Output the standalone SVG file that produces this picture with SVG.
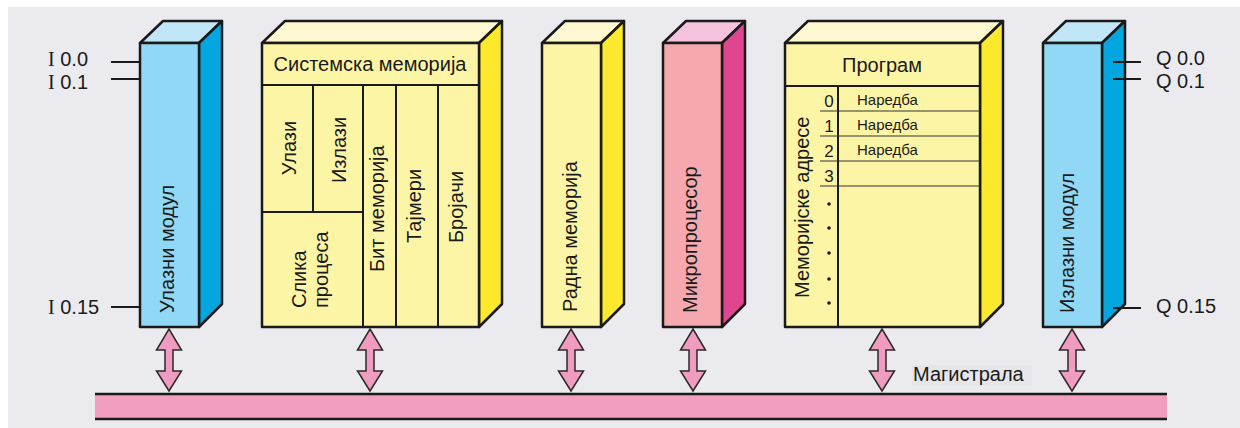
<svg xmlns="http://www.w3.org/2000/svg" width="1240" height="428" viewBox="0 0 1240 428">
  <defs>
    <style>
      .edge { stroke: #1a1a1a; stroke-width: 2.5; stroke-linejoin: round; }
      .thin { stroke: #1a1a1a; stroke-width: 2; fill: none; }
      .row { stroke: #333; stroke-width: 1.2; fill: none; }
      .blue-front { fill: #90D8F5; }
      .blue-side { fill: #03A6DE; }
      .blue-top { fill: #C0E6F7; }
      .yel-front { fill: #FDF5A6; }
      .yel-side { fill: #FCE82C; }
      .yel-top { fill: #FEF9D0; }
      .pink-front { fill: #F5A9AE; }
      .pink-side { fill: #E0468F; }
      .pink-top { fill: #F6C2DE; }
      .lbl { font-family: "Liberation Sans", Arial, sans-serif; fill: #1a1a1a; }
      .big { font-size: 20px; }
      .mid { font-size: 17px; }
      .small { font-size: 15px; }
      .arrow { fill: #F09CC0; stroke: #2a2a2a; stroke-width: 1.5; stroke-linejoin: miter; }
    </style>
    <!-- double-headed bus arrow, centred on x=0 -->
    <path id="busArrow" d="M0,329 L12.5,350 L4,350 L4,371 L12.5,371 L0,391 L-12.5,371 L-4,371 L-4,350 L-12.5,350 Z"/>
  </defs>

  <!-- page background -->
  <rect x="0" y="0" width="1240" height="428" fill="#ffffff"/>
  <rect x="8" y="7" width="1232" height="421" fill="#EBEBEF"/>

  <!-- input module -->
  <g id="input-module">
    <line class="thin" x1="111" y1="62" x2="140" y2="62"/>
    <line class="thin" x1="111" y1="79" x2="140" y2="79"/>
    <line class="thin" x1="111" y1="307" x2="140" y2="307"/>
    <text class="lbl big" x="48" y="66"><tspan font-family="Liberation Serif, serif">I</tspan> 0.0</text>
    <text class="lbl big" x="48" y="89"><tspan font-family="Liberation Serif, serif">I</tspan> 0.1</text>
    <text class="lbl big" x="48" y="314"><tspan font-family="Liberation Serif, serif">I</tspan> 0.15</text>
    <polygon class="edge blue-top" points="140,43 163,21 222,21 199,43"/>
    <polygon class="edge blue-side" points="199,43 222,21 222,304 199,327"/>
    <rect class="edge blue-front" x="140" y="43" width="59" height="284"/>
    <text class="lbl big" transform="translate(174,313) rotate(-90)">Улазни модул</text>
  </g>

  <!-- system memory -->
  <g id="system-memory">
    <polygon class="edge yel-top" points="262,43 285,21 502,21 479,43"/>
    <polygon class="edge yel-side" points="479,43 502,21 502,304 479,327"/>
    <rect class="edge yel-front" x="262" y="43" width="217" height="284"/>
    <line class="thin" x1="262" y1="85" x2="479" y2="85"/>
    <line class="thin" x1="313" y1="85" x2="313" y2="212"/>
    <line class="thin" x1="262" y1="212" x2="363" y2="212"/>
    <line class="thin" x1="363" y1="85" x2="363" y2="327"/>
    <line class="thin" x1="396" y1="85" x2="396" y2="327"/>
    <line class="thin" x1="438" y1="85" x2="438" y2="327"/>
    <text class="lbl big" x="370" y="71" text-anchor="middle">Системска меморија</text>
    <text class="lbl big" transform="translate(296,148) rotate(-90)" text-anchor="middle">Улази</text>
    <text class="lbl big" transform="translate(346,150) rotate(-90)" text-anchor="middle">Излази</text>
    <text class="lbl big" transform="translate(306,308) rotate(-90)">Слика</text>
    <text class="lbl big" transform="translate(328,308) rotate(-90)">процеса</text>
    <text class="lbl big" transform="translate(384,272) rotate(-90)">Бит меморија</text>
    <text class="lbl big" transform="translate(421,243) rotate(-90)">Тајмери</text>
    <text class="lbl big" transform="translate(463,243) rotate(-90)">Бројачи</text>
  </g>

  <!-- working memory -->
  <g id="working-memory">
    <polygon class="edge yel-top" points="542,43 565,21 624,21 601,43"/>
    <polygon class="edge yel-side" points="601,43 624,21 624,304 601,327"/>
    <rect class="edge yel-front" x="542" y="43" width="59" height="284"/>
    <text class="lbl big" transform="translate(577,312) rotate(-90)">Радна меморија</text>
  </g>

  <!-- microprocessor -->
  <g id="microprocessor">
    <polygon class="edge pink-top" points="663,43 686,21 745,21 722,43"/>
    <polygon class="edge pink-side" points="722,43 745,21 745,304 722,327"/>
    <rect class="edge pink-front" x="663" y="43" width="59" height="284"/>
    <text class="lbl big" transform="translate(697,313) rotate(-90)">Микропроцесор</text>
  </g>

  <!-- program memory -->
  <g id="program-memory">
    <polygon class="edge yel-top" points="785,43 808,21 1003,21 980,43"/>
    <polygon class="edge yel-side" points="980,43 1003,21 1003,304 980,327"/>
    <rect class="edge yel-front" x="785" y="43" width="195" height="284"/>
    <line class="thin" x1="785" y1="86" x2="980" y2="86"/>
    <line class="thin" x1="838" y1="86" x2="838" y2="327"/>
    <line class="row" x1="820" y1="111" x2="980" y2="111"/>
    <line class="row" x1="820" y1="136" x2="980" y2="136"/>
    <line class="row" x1="820" y1="161" x2="980" y2="161"/>
    <line class="row" x1="820" y1="186" x2="980" y2="186"/>
    <text class="lbl big" x="882" y="72" text-anchor="middle">Програм</text>
    <text class="lbl big" transform="translate(809,298) rotate(-90)">Меморијске адресе</text>
    <g class="lbl mid" text-anchor="middle">
      <text x="829" y="107">0</text>
      <text x="829" y="132">1</text>
      <text x="829" y="157">2</text>
      <text x="829" y="182">3</text>
    </g>
    <g class="lbl small">
      <text x="857" y="105">Наредба</text>
      <text x="857" y="130">Наредба</text>
      <text x="857" y="155">Наредба</text>
    </g>
    <g fill="#1a1a1a">
      <circle cx="829" cy="204" r="1.8"/>
      <circle cx="829" cy="228" r="1.8"/>
      <circle cx="829" cy="253" r="1.8"/>
      <circle cx="829" cy="279" r="1.8"/>
      <circle cx="829" cy="303" r="1.8"/>
    </g>
  </g>

  <!-- output module -->
  <g id="output-module">
    <polygon class="edge blue-top" points="1043,43 1066,21 1125,21 1102,43"/>
    <polygon class="edge blue-side" points="1102,43 1125,21 1125,304 1102,327"/>
    <rect class="edge blue-front" x="1043" y="43" width="59" height="284"/>
    <line class="thin" x1="1113" y1="62" x2="1141" y2="62"/>
    <line class="thin" x1="1113" y1="79" x2="1141" y2="79"/>
    <line class="thin" x1="1113" y1="308" x2="1141" y2="308"/>
    <text class="lbl big" x="1156" y="65">Q 0.0</text>
    <text class="lbl big" x="1156" y="88">Q 0.1</text>
    <text class="lbl big" x="1156" y="313">Q 0.15</text>
    <text class="lbl big" transform="translate(1074,313) rotate(-90)">Излазни модул</text>
  </g>

  <!-- bus -->
  <g id="bus">
    <rect x="95" y="394" width="1072" height="25" fill="#F29EC1"/>
    <line x1="95" y1="394" x2="1167" y2="394" stroke="#1a1a1a" stroke-width="2.5"/>
    <line x1="95" y1="419" x2="1167" y2="419" stroke="#1a1a1a" stroke-width="2.5"/>
    <rect x="912" y="365" width="120" height="21" fill="#E6E6E8"/>
    <text class="lbl big" x="913" y="381">Магистрала</text>
  </g>

  <!-- connectors between modules and bus -->
  <g id="connectors">
    <use href="#busArrow" class="arrow" x="169"/>
    <use href="#busArrow" class="arrow" x="370"/>
    <use href="#busArrow" class="arrow" x="571"/>
    <use href="#busArrow" class="arrow" x="693"/>
    <use href="#busArrow" class="arrow" x="882"/>
    <use href="#busArrow" class="arrow" x="1072"/>
  </g>
</svg>
